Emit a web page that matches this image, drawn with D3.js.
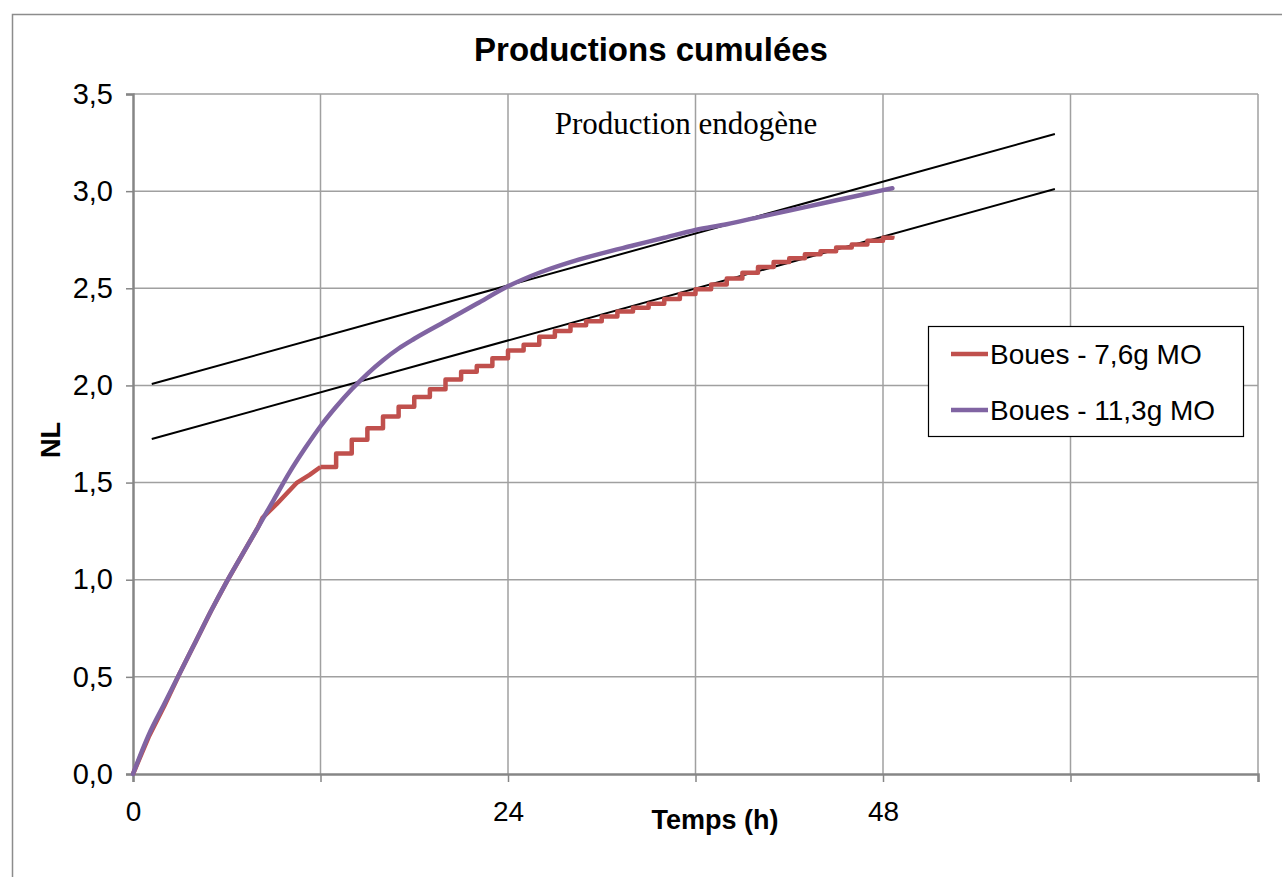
<!DOCTYPE html>
<html>
<head>
<meta charset="utf-8">
<script src="https://cdnjs.cloudflare.com/ajax/libs/d3/7.8.5/d3.min.js"></script>
<style>
  body { margin: 0; background: #fff; }
  text { font-family: "Liberation Sans", Arial, sans-serif; }
</style>
</head>
<body>
<div id="chart"></div>
<script>

// cumulated production (h, NL)
var seriesNames = ["Boues - 7,6g MO", "Boues - 11,3g MO"];

// red series : smooth start then stepped (gas counter)
var redSmoothTimes  = [0, 1, 2, 3, 4, 5, 6, 7, 8, 8.3, 9.2, 10.5, 11.3, 12];
var redSmoothValues = [0, 0.19, 0.35, 0.52, 0.68, 0.84, 0.99, 1.13, 1.27, 1.32, 1.39, 1.50, 1.54, 1.58];
var redStepTimes  = [12, 13, 14, 15, 16, 17, 18, 19, 20, 21, 22, 23, 24, 25, 26, 27, 28,
                     29, 30, 31, 32, 33, 34, 35, 36, 37, 38, 39, 40, 41, 42, 43, 44, 45, 46, 47, 48, 48.6];
var redStepValues = [1.58, 1.65, 1.72, 1.78, 1.84, 1.89, 1.94, 1.98, 2.03, 2.07, 2.10, 2.14, 2.18, 2.21, 2.25, 2.28, 2.31,
                     2.33, 2.355, 2.38, 2.40, 2.42, 2.445, 2.47, 2.495, 2.52, 2.55, 2.58, 2.61, 2.635, 2.655, 2.675, 2.69, 2.71, 2.725, 2.745, 2.76, 2.77];

// purple series
var purpleTimes  = [0, 1, 2, 3, 4, 5, 6, 7, 8, 9, 10, 11, 12, 13, 14, 15, 16, 17, 18, 20,
                    22, 24, 26, 28, 30, 32, 34, 36, 38, 40, 42, 44, 46, 48, 48.6];
var purpleValues = [0, 0.2, 0.36, 0.52, 0.68, 0.84, 0.99, 1.13, 1.27, 1.41, 1.55, 1.675, 1.79, 1.89, 1.98, 2.06, 2.13, 2.19, 2.24, 2.33,
                    2.42, 2.51, 2.58, 2.635, 2.68, 2.72, 2.76, 2.80, 2.83, 2.865, 2.90, 2.935, 2.97, 3.005, 3.015];

// "Production endogène" straight lines
var endoTimes = [1.2, 59];
var endoHigh  = [2.007, 3.294];
var endoLow   = [1.724, 3.011];

var xTicks = [0, 12, 24, 36, 48, 60, 72];
var xLabels = [0, 24, 48];
var yTicks = [0, 0.5, 1, 1.5, 2, 2.5, 3, 3.5];

var colors = ["#C0504D", "#8064A2"];

var width = 1282, height = 877;
var plotLeft = 133, plotRight = 1258, plotTop = 94, plotBottom = 774;

var x = d3.scaleLinear().domain([0, 72]).range([plotLeft, plotRight]);
var y = d3.scaleLinear().domain([0, 3.5]).range([plotBottom, plotTop]);

var fmt = function(d){ return d3.format(".1f")(d).replace(".", ","); };

var svg = d3.select("#chart").append("svg")
  .attr("width", width)
  .attr("height", height);

// chart frame
svg.append("rect")
  .attr("x", 12.5).attr("y", 14.5)
  .attr("width", 1300).attr("height", 900)
  .attr("fill", "#fff")
  .attr("stroke", "#8c8c8c")
  .attr("stroke-width", 1.5);

svg.append("text")
  .attr("x", 651).attr("y", 61)
  .attr("text-anchor", "middle")
  .style("font-size", "33px")
  .style("font-weight", "bold")
  .text("Productions cumulées");

// grid
var grid = svg.append("g");
grid.selectAll(".hgrid")
  .data(yTicks.slice(1))
  .enter().append("line")
  .attr("x1", plotLeft).attr("x2", plotRight)
  .attr("y1", d => y(d)).attr("y2", d => y(d))
  .attr("stroke", "#a0a0a0").attr("stroke-width", 1.5);

grid.selectAll(".vgrid")
  .data(xTicks.slice(1))
  .enter().append("line")
  .attr("x1", d => x(d)).attr("x2", d => x(d))
  .attr("y1", plotTop).attr("y2", plotBottom)
  .attr("stroke", "#a0a0a0").attr("stroke-width", 1.5);

// axes
var yAxis = svg.append("g")
  .attr("transform", `translate(${plotLeft},0)`)
  .call(d3.axisLeft(y).tickValues(yTicks).tickSize(7).tickPadding(13).tickFormat(fmt));
var xAxis = svg.append("g")
  .attr("transform", `translate(0,${plotBottom})`)
  .call(d3.axisBottom(x).tickValues(xTicks).tickSize(8).tickPadding(19)
        .tickFormat(d => xLabels.indexOf(d) >= 0 ? d : ""));

[yAxis, xAxis].forEach(function(a){
  a.select(".domain").attr("stroke", "#868686").attr("stroke-width", 2.5);
  a.selectAll(".tick line").attr("stroke", "#868686").attr("stroke-width", 1.5);
  a.selectAll(".tick text")
    .attr("fill", "#000")
    .style("font-size", "28px")
    .style("font-family", "'Liberation Sans', Arial, sans-serif");
});
yAxis.selectAll(".tick text").style("font-size", "29px");

svg.append("text")
  .attr("x", 715).attr("y", 829)
  .attr("text-anchor", "middle")
  .style("font-size", "27px")
  .style("font-weight", "bold")
  .text("Temps (h)");

svg.append("text")
  .attr("transform", "translate(60,440) rotate(-90)")
  .attr("text-anchor", "middle")
  .style("font-size", "27px")
  .style("font-weight", "bold")
  .text("NL");

// endogenous lines
var line = d3.line().x(d => x(d[0])).y(d => y(d[1]));
[endoHigh, endoLow].forEach(function(v){
  svg.append("path")
    .attr("d", line(endoTimes.map((t, i) => [t, v[i]])))
    .attr("fill", "none")
    .attr("stroke", "#000")
    .attr("stroke-width", 2);
});

// red series
svg.append("path")
  .attr("d", line(redSmoothTimes.map((t, i) => [t, redSmoothValues[i]])))
  .attr("fill", "none").attr("stroke", colors[0]).attr("stroke-width", 4.5)
  .attr("stroke-linejoin", "round");
svg.append("path")
  .attr("d", line.curve(d3.curveStepAfter)(redStepTimes.map((t, i) => [t, redStepValues[i]])))
  .attr("fill", "none").attr("stroke", colors[0]).attr("stroke-width", 4.5)
  .attr("stroke-linejoin", "round");
line.curve(d3.curveLinear);

// purple series
svg.append("path")
  .attr("d", d3.line().curve(d3.curveMonotoneX).x(d => x(d[0])).y(d => y(d[1]))
    (purpleTimes.map((t, i) => [t, purpleValues[i]])))
  .attr("fill", "none").attr("stroke", colors[1]).attr("stroke-width", 4.5)
  .attr("stroke-linecap", "round");

svg.append("text")
  .attr("x", 686).attr("y", 134)
  .attr("text-anchor", "middle")
  .style("font-family", "'Liberation Serif', 'DejaVu Serif', serif")
  .style("font-size", "31px")
  .text("Production endogène");

// legend
var legend = svg.append("g");
legend.append("rect")
  .attr("x", 928.5).attr("y", 326.5)
  .attr("width", 315).attr("height", 110)
  .attr("fill", "#fff").attr("stroke", "#000").attr("stroke-width", 1.2);

var items = legend.selectAll(".item")
  .data(seriesNames)
  .enter().append("g")
  .attr("transform", (d, i) => `translate(951,${354 + i * 56})`);
items.append("line")
  .attr("x1", 0).attr("x2", 37)
  .attr("stroke", (d, i) => colors[i]).attr("stroke-width", 4.5);
items.append("text")
  .attr("x", 39).attr("dy", "0.36em")
  .style("font-size", "28px")
  .text(d => d);

</script>
</body>
</html>
